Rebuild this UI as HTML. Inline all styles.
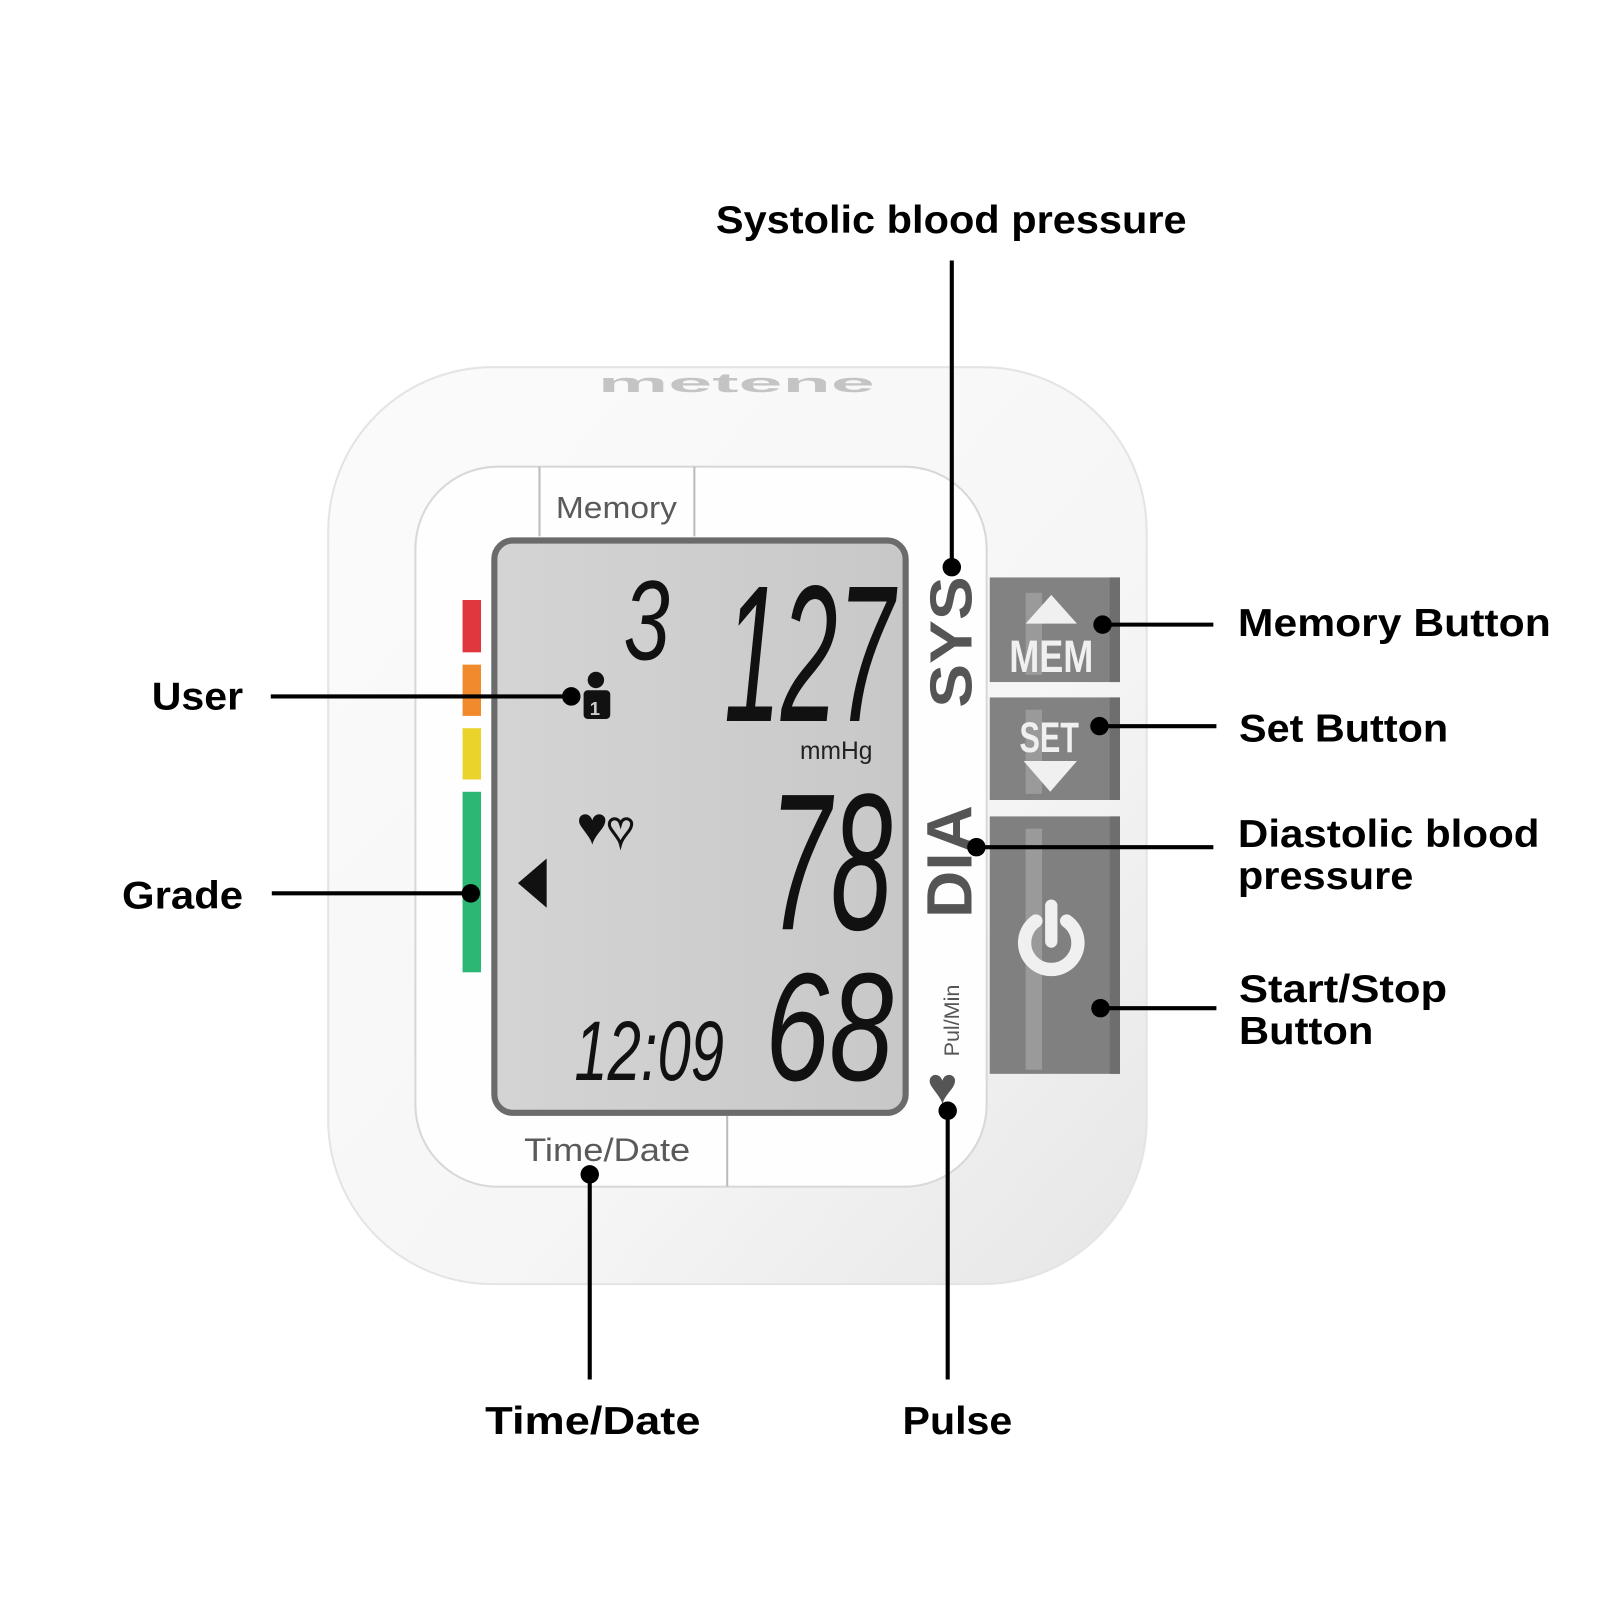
<!DOCTYPE html>
<html><head><meta charset="utf-8"><style>
html,body{margin:0;padding:0;background:#fff;width:1600px;height:1600px;overflow:hidden}
svg{display:block}
text{font-family:"Liberation Sans",sans-serif}
</style></head><body>
<svg width="1600" height="1600" viewBox="0 0 1560 1560" xmlns="http://www.w3.org/2000/svg">
<defs>
<linearGradient id="body" x1="0" y1="0" x2="1" y2="1">
<stop offset="0" stop-color="#fbfbfb"/><stop offset="0.6" stop-color="#f6f6f6"/><stop offset="1" stop-color="#e6e6e6"/></linearGradient>
<linearGradient id="lcd" x1="0" y1="0" x2="1" y2="0">
<stop offset="0" stop-color="#d4d4d4"/><stop offset="1" stop-color="#c8c8c8"/></linearGradient>
</defs>
<rect width="1560" height="1560" fill="#fff"/>
<!-- body -->
<rect x="320" y="358" width="798" height="894" rx="160" fill="url(#body)" stroke="#e4e4e4" stroke-width="2"/>
<text x="718" y="382" text-anchor="middle" font-size="26" fill="#c4c4c4" font-weight="bold" textLength="270" lengthAdjust="spacingAndGlyphs">metene</text>
<!-- face panel -->
<rect x="405" y="455" width="557" height="702" rx="80" fill="#fefefe" stroke="#d8d8d8" stroke-width="2"/>
<line x1="526" y1="455" x2="526" y2="523" stroke="#bbb" stroke-width="2"/>
<line x1="677" y1="455" x2="677" y2="523" stroke="#bbb" stroke-width="2"/>
<line x1="709" y1="1088" x2="709" y2="1157" stroke="#bbb" stroke-width="2"/>
<text x="601" y="505" text-anchor="middle" font-size="30" fill="#5a5a5a" textLength="118" lengthAdjust="spacingAndGlyphs">Memory</text>
<text x="592" y="1132" text-anchor="middle" font-size="32" fill="#5a5a5a" textLength="162" lengthAdjust="spacingAndGlyphs">Time/Date</text>
<!-- grade bars -->
<rect x="451" y="585" width="18" height="51" fill="#e0373f"/>
<rect x="451" y="648" width="18" height="50" fill="#f08a2c"/>
<rect x="451" y="710" width="18" height="50" fill="#ead32a"/>
<rect x="451" y="772" width="18" height="176" fill="#2cb774"/>
<!-- LCD -->
<rect x="482" y="527" width="401" height="558" rx="18" fill="url(#lcd)" stroke="#6b6b6b" stroke-width="6"/>
<g fill="#111" font-style="italic">
<text x="608" y="643" font-size="110" textLength="45" lengthAdjust="spacingAndGlyphs">3</text>
<text x="706" y="703" font-size="190" textLength="166" lengthAdjust="spacingAndGlyphs">127</text>
<text x="780" y="740" font-size="24" font-style="normal" fill="#222">mmHg</text>
<text x="750" y="906" font-size="190" textLength="120" lengthAdjust="spacingAndGlyphs">78</text>
<text x="746" y="1053" font-size="150" textLength="125" lengthAdjust="spacingAndGlyphs">68</text>
<text x="560" y="1053" font-size="82" textLength="146" lengthAdjust="spacingAndGlyphs">12:09</text>
</g>
<polygon points="533,837 533,885 505,861" fill="#111"/>
<text x="562" y="823" font-size="52" fill="#111">♥</text>
<text x="592" y="823" font-size="44" fill="none" stroke="#111" stroke-width="3">♥</text>
<circle cx="581" cy="663" r="8" fill="#111"/>
<rect x="569" y="673" width="26" height="28" rx="4" fill="#111"/>
<text x="575" y="697" font-size="18" fill="#ccc" font-weight="bold">1</text>
<!-- SYS / DIA -->
<text transform="translate(947,690) rotate(-90)" font-size="58" font-weight="bold" fill="#555" textLength="128" lengthAdjust="spacingAndGlyphs">SYS</text>
<text transform="translate(947,895) rotate(-90)" font-size="62" font-weight="bold" fill="#555" textLength="110" lengthAdjust="spacingAndGlyphs">DIA</text>
<text transform="translate(935,1030) rotate(-90)" font-size="21" fill="#555">Pul/Min</text>
<text x="904" y="1076" font-size="50" fill="#555">♥</text>
<!-- buttons -->
<rect x="965" y="563" width="127" height="102" fill="#828282"/>
<rect x="965" y="680" width="127" height="100" fill="#828282"/>
<rect x="965" y="796" width="127" height="251" fill="#808080"/>
<g fill="#9a9a9a"><rect x="1000" y="578" width="16" height="80"/><rect x="1000" y="692" width="16" height="82"/><rect x="1000" y="808" width="16" height="235"/></g>
<g fill="#6e6e6e"><rect x="1082" y="563" width="10" height="102"/><rect x="1082" y="680" width="10" height="100"/><rect x="1082" y="796" width="10" height="251"/></g>
<polygon points="1025,580 1050,608 1000,608" fill="#f0f0f0"/>
<text x="1025" y="655" text-anchor="middle" font-size="44" font-weight="bold" fill="#f0f0f0" textLength="82" lengthAdjust="spacingAndGlyphs">MEM</text>
<text x="1023" y="733" text-anchor="middle" font-size="42" font-weight="bold" fill="#f0f0f0" textLength="58" lengthAdjust="spacingAndGlyphs">SET</text>
<polygon points="998,742 1050,742 1024,772" fill="#f0f0f0"/>
<path d="M1010,898 A26,26 0 1 0 1040,898" fill="none" stroke="#f0f0f0" stroke-width="13" stroke-linecap="round"/>
<line x1="1025" y1="883" x2="1025" y2="918" stroke="#f0f0f0" stroke-width="12" stroke-linecap="round"/>
<!-- connectors -->
<g stroke="#000" stroke-width="4">
<line x1="928" y1="254" x2="928" y2="553"/>
<line x1="264" y1="679" x2="557" y2="679"/>
<line x1="265" y1="871" x2="459" y2="871"/>
<line x1="1075" y1="609" x2="1183" y2="609"/>
<line x1="1072" y1="708" x2="1186" y2="708"/>
<line x1="952" y1="826" x2="1183" y2="826"/>
<line x1="1073" y1="983" x2="1186" y2="983"/>
<line x1="575" y1="1145" x2="575" y2="1345"/>
<line x1="924" y1="1083" x2="924" y2="1345"/>
</g>
<g fill="#000">
<circle cx="928" cy="553" r="9"/><circle cx="557" cy="679" r="9"/><circle cx="459" cy="871" r="9"/>
<circle cx="1075" cy="609" r="9"/><circle cx="1072" cy="708" r="9"/><circle cx="952" cy="826" r="9"/>
<circle cx="1073" cy="983" r="9"/><circle cx="575" cy="1145" r="9"/><circle cx="924" cy="1083" r="9"/>
</g>
<!-- labels -->
<g font-size="38" font-weight="bold" fill="#000">
<text x="698" y="227" textLength="459" lengthAdjust="spacingAndGlyphs">Systolic blood pressure</text>
<text x="148" y="692" textLength="89" lengthAdjust="spacingAndGlyphs">User</text>
<text x="119" y="886" textLength="118" lengthAdjust="spacingAndGlyphs">Grade</text>
<text x="1207" y="620" textLength="305" lengthAdjust="spacingAndGlyphs">Memory Button</text>
<text x="1208" y="723" textLength="204" lengthAdjust="spacingAndGlyphs">Set Button</text>
<text x="1207" y="826" textLength="294" lengthAdjust="spacingAndGlyphs">Diastolic blood</text>
<text x="1207" y="867" textLength="171" lengthAdjust="spacingAndGlyphs">pressure</text>
<text x="1208" y="977" textLength="203" lengthAdjust="spacingAndGlyphs">Start/Stop</text>
<text x="1208" y="1018" textLength="131" lengthAdjust="spacingAndGlyphs">Button</text>
<text x="473" y="1398" textLength="210" lengthAdjust="spacingAndGlyphs">Time/Date</text>
<text x="880" y="1398" textLength="107" lengthAdjust="spacingAndGlyphs">Pulse</text>
</g>
</svg>
</body></html>
